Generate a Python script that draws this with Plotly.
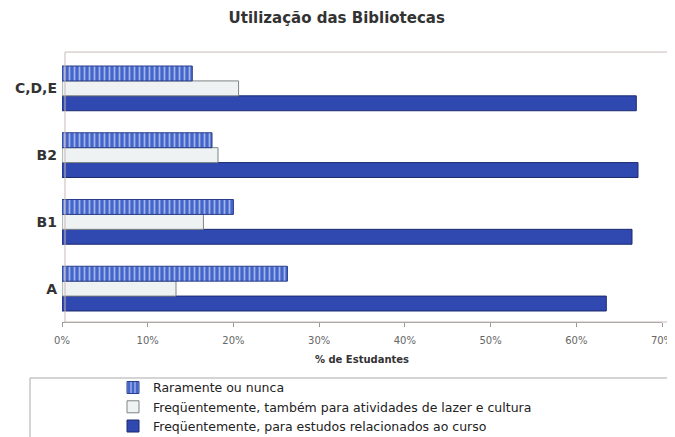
import plotly.graph_objects as go

categories = ["A", "B1", "B2", "C,D,E"]
raramente = [26.3, 20.0, 17.5, 15.2]
lazer = [13.3, 16.5, 18.2, 20.6]
estudos = [63.5, 66.5, 67.2, 67.0]
tick_vals = [0, 10, 20, 30, 40, 50, 60, 70]
tick_text = ["0%", "10%", "20%", "30%", "40%", "50%", "60%", "70%"]

names = [
    "Freqüentemente, para estudos relacionados ao curso",
    "Freqüentemente, também para atividades de lazer e cultura",
    "Raramente ou nunca",
]

fig = go.Figure()
fig.add_trace(go.Bar(
    y=categories, x=estudos, orientation="h", name=names[0],
    marker=dict(color="#3049b0", line=dict(color="#1c2a70", width=1)),
))
fig.add_trace(go.Bar(
    y=categories, x=lazer, orientation="h", name=names[1],
    marker=dict(color="#eef2f2", line=dict(color="#7d8585", width=1)),
))
fig.add_trace(go.Bar(
    y=categories, x=raramente, orientation="h", name=names[2],
    marker=dict(color="#4466cc", line=dict(color="#2a3f8a", width=1),
                pattern=dict(shape="|", fgcolor="#ffffff", bgcolor="#4466cc",
                             size=5, solidity=0.35)),
))

fig.update_layout(
    width=675, height=437,
    margin=dict(l=54, r=21, t=47, b=123),
    paper_bgcolor="white", plot_bgcolor="white",
    barmode="group", bargap=0.33, bargroupgap=0,
    font=dict(family="DejaVu Sans, Liberation Sans, sans-serif", color="#333333"),
    title=dict(text="<b>Utilização das Bibliotecas</b>", x=0.487, xref="container",
               y=0.977, yref="container", xanchor="center", yanchor="middle",
               font=dict(size=15, color="#333333", family="DejaVu Sans")),
    xaxis=dict(range=[0, 70], tickvals=tick_vals, ticktext=tick_text, automargin=False,
               tickfont=dict(size=10, color="#666666", family="DejaVu Sans"), showgrid=False,
               zeroline=False, showline=True, linecolor="#999999",
               ticks="outside", ticklen=4, tickcolor="#999999", ticklabelstandoff=5,
               title=dict(text="<b>% de Estudantes</b>",
                          font=dict(size=10, color="#333333", family="DejaVu Sans"),
                          standoff=10)),
    yaxis=dict(tickfont=dict(size=14, color="#333333", family="DejaVu Sans"), automargin=False,
               showgrid=False, zeroline=False, ticklabelstandoff=4,
               tickprefix="<b>", ticksuffix="</b>"),
    legend=dict(x=0.085, xref="paper", y=0.165, yref="container",
                xanchor="left", yanchor="top",
                traceorder="reversed", font=dict(size=12.5, color="#222222", family="DejaVu Sans"),
                bgcolor="rgba(0,0,0,0)", tracegroupgap=0, itemwidth=30),
    shapes=[
        dict(type="rect", xref="paper", yref="paper", x0=0.005, x1=1.05, y0=0.0, y1=1.011,
             line=dict(color="#c9b8b8", width=1)),
        dict(type="rect", xref="paper", yref="paper", x0=-0.0533, x1=1.05, y0=-0.2097, y1=-0.5,
             line=dict(color="#aaaaaa", width=1)),
    ],
)

fig.write_html("out.html")
